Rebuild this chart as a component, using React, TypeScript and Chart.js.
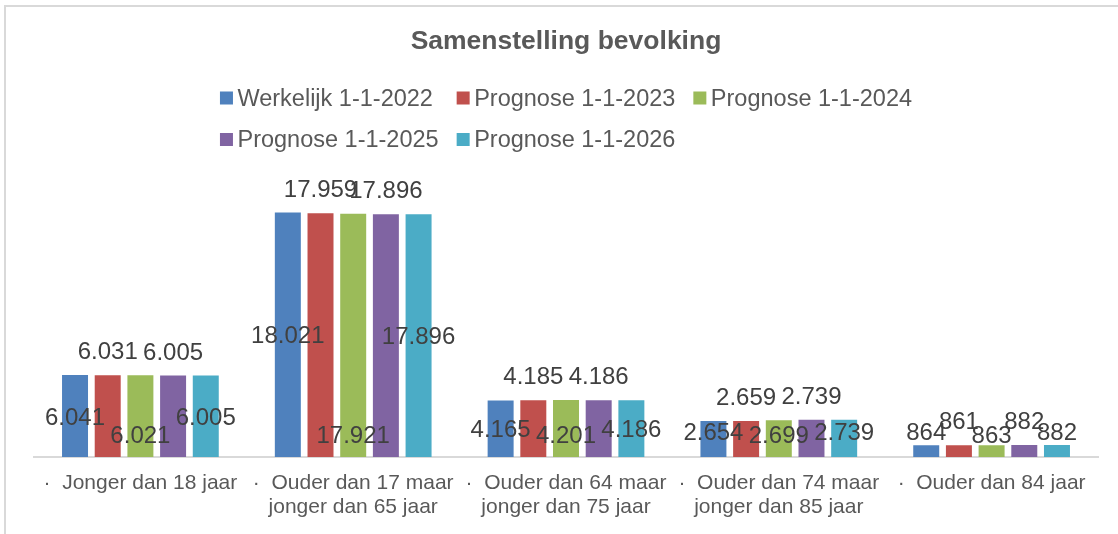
import React, { useEffect, useRef } from "react";
import { Chart, registerables } from "chart.js";

Chart.register(...registerables);

// ---- Data ----
const chartTitle = "Samenstelling bevolking";
const categories: string[][] = [
  ["·  Jonger dan 18 jaar"],
  ["·  Ouder dan 17 maar", "jonger dan 65 jaar"],
  ["·  Ouder dan 64 maar", "jonger dan 75 jaar"],
  ["·  Ouder dan 74 maar", "jonger dan 85 jaar"],
  ["·  Ouder dan 84 jaar"],
];
const seriesNames = [
  "Werkelijk 1-1-2022",
  "Prognose 1-1-2023",
  "Prognose 1-1-2024",
  "Prognose 1-1-2025",
  "Prognose 1-1-2026",
];
const werkelijk2022 = [6041, 18021, 4165, 2654, 864];
const prognose2023 = [6031, 17959, 4185, 2659, 861];
const prognose2024 = [6021, 17921, 4201, 2699, 863];
const prognose2025 = [6005, 17896, 4186, 2739, 882];
const prognose2026 = [6005, 17896, 4186, 2739, 882];
const seriesValues = [werkelijk2022, prognose2023, prognose2024, prognose2025, prognose2026];
const seriesColors = ["#4F81BD", "#C0504D", "#9BBB59", "#8064A2", "#4BACC6"];
const labelPlacement = ["center", "end", "base", "end", "center"];
const yMin = 0;
const yMax = 20000;

// ---- Styling ----
const FONT = '"Liberation Sans", Arial, sans-serif';
const CENTER_X = 566;
const TEXT_GREY = "#595959";
const LABEL_GREY = "#404040";
const LINE_GREY = "#D9D9D9";

const fmt = (n: number) => String(n).replace(/\B(?=(\d{3})+(?!\d))/g, ".");

const decorPlugin = {
  id: "decor",
  beforeDraw(chart: any) {
    const ctx = chart.ctx as CanvasRenderingContext2D;
    ctx.save();
    ctx.fillStyle = "#ffffff";
    ctx.fillRect(0, 0, chart.width, chart.height);
    // chart-area frame (left + top visible)
    ctx.fillStyle = LINE_GREY;
    ctx.fillRect(4, 5, 2, chart.height);
    ctx.fillRect(4, 5, chart.width, 2);
    // title
    ctx.fillStyle = TEXT_GREY;
    ctx.font = `bold 26.5px ${FONT}`;
    ctx.textAlign = "center";
    ctx.textBaseline = "alphabetic";
    ctx.fillText(chartTitle, CENTER_X, 49);
    // legend (grid, left-aligned rows)
    ctx.font = `23.5px ${FONT}`;
    const ds = chart.data.datasets;
    const widths = ds.map((d: any) => 13 + 4.5 + ctx.measureText(d.label).width);
    const pitch = Math.max(...widths) + 18;
    const perRow = 3;
    const startX = CENTER_X - (perRow * pitch - 18) / 2;
    ds.forEach((d: any, i: number) => {
      const row = Math.floor(i / perRow);
      const col = i % perRow;
      const x = startX + col * pitch;
      const base = 105.5 + row * 41.5;
      ctx.fillStyle = d.backgroundColor;
      ctx.fillRect(x, base - 14, 13, 13);
      ctx.fillStyle = TEXT_GREY;
      ctx.textAlign = "left";
      ctx.fillText(d.label, x + 17.5, base);
    });
    ctx.restore();
  },
  afterDatasetsDraw(chart: any) {
    const ctx = chart.ctx as CanvasRenderingContext2D;
    ctx.save();
    ctx.font = `24px ${FONT}`;
    ctx.fillStyle = LABEL_GREY;
    ctx.textAlign = "center";
    ctx.textBaseline = "alphabetic";
    chart.data.datasets.forEach((d: any, i: number) => {
      const meta = chart.getDatasetMeta(i);
      const mode = labelPlacement[i];
      meta.data.forEach((bar: any, j: number) => {
        const { x, y, base } = bar.getProps(["x", "y", "base"], true);
        let by: number;
        if (mode === "end") {
          by = y - 16;
        } else if (mode === "base") {
          by = base - 14.5;
        } else {
          by = Math.min((y + base) / 2 + 8.6, base - 17);
        }
        ctx.fillText(fmt(d.data[j]), x, by);
      });
    });
    ctx.restore();
  },
};

export default function App() {
  const ref = useRef<HTMLCanvasElement | null>(null);
  useEffect(() => {
    if (!ref.current) return;
    const chart = new Chart(ref.current, {
      type: "bar",
      data: {
        labels: categories,
        datasets: seriesValues.map((data, i) => ({
          label: seriesNames[i],
          data,
          backgroundColor: seriesColors[i],
          borderWidth: 0,
          categoryPercentage: 0.768,
          barPercentage: 0.795,
        })),
      },
      options: {
        responsive: false,
        animation: false,
        devicePixelRatio: 1,
        layout: { padding: { top: 185.6, left: 34, right: 20, bottom: 0 } },
        plugins: {
          legend: { display: false },
          title: { display: false },
          tooltip: { enabled: false },
        },
        scales: {
          x: {
            grid: { display: false, drawTicks: false },
            border: { display: true, color: LINE_GREY, width: 2 },
            ticks: {
              color: TEXT_GREY,
              font: { family: FONT, size: 21, lineHeight: 1.14 },
              padding: 14,
              maxRotation: 0,
              autoSkip: false,
            },
            afterFit: (s: any) => {
              s.height = 77;
            },
          },
          y: { display: false, min: yMin, max: yMax },
        },
      },
      plugins: [decorPlugin],
    } as any);
    return () => chart.destroy();
  }, []);
  return (
    <div style={{ position: "absolute", left: 0, top: 0, width: 1118, height: 534, background: "#fff" }}>
      <canvas ref={ref} width={1118} height={534} style={{ display: "block" }} />
    </div>
  );
}
